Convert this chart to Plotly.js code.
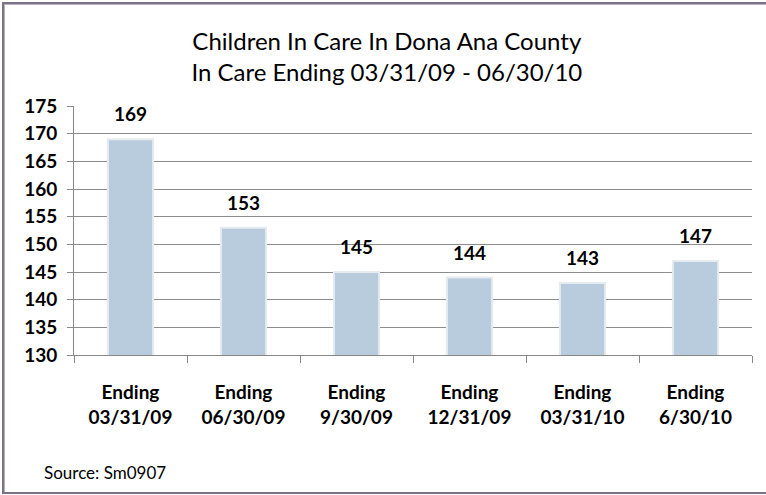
<!DOCTYPE html>
<html>
<head>
<meta charset="utf-8">
<script src="https://cdn.plot.ly/plotly-3.0.1.min.js"></script>
<style>
html,body{margin:0;padding:0;background:#fff;overflow:hidden;}
#frame{position:absolute;left:2px;top:2px;width:780px;height:492px;border:2px solid #7B7189;box-shadow:inset 1px 1px 0 #B7B0C0;box-sizing:border-box;}
#chart{position:absolute;left:0;top:0;width:766px;height:495px;}
</style>
</head>
<body>
<div id="chart"></div>
<div id="frame"></div>
<script>
var categories = ["Ending<br>03/31/09", "Ending<br>06/30/09", "Ending<br>9/30/09", "Ending<br>12/31/09", "Ending<br>03/31/10", "Ending<br>6/30/10"];
var values = [169, 153, 145, 144, 143, 147];
var yTicks = [130, 135, 140, 145, 150, 155, 160, 165, 170, 175];

var fontFam = "Lato, 'Open Sans', sans-serif";

var trace = {
  type: 'bar',
  x: categories,
  y: values,
  marker: {color: '#B9CCDE', line: {color: '#E6EBF0', width: 2}},
  hoverinfo: 'none'
};

var annotations = categories.map(function(c, i){
  return {x: c, y: values[i], xref: 'x', yref: 'y', text: '<b>' + values[i] + '</b>',
    showarrow: false, yanchor: 'bottom', yshift: 12,
    font: {family: fontFam, size: 19, color: '#000'}};
});
annotations.push({xref: 'paper', yref: 'paper', x: -0.047, y: -0.47, xanchor: 'left', yanchor: 'middle',
  text: 'Source: Sm0907', showarrow: false, font: {family: fontFam, size: 17, color: '#000'}});

var layout = {
  width: 766, height: 495,
  margin: {l: 74, r: 14, t: 106, b: 140},
  paper_bgcolor: 'rgba(0,0,0,0)', plot_bgcolor: '#fff',
  title: {text: 'Children In Care In Dona Ana County<br>In Care Ending 03/31/09 - 06/30/10',
    x: 0.505, xanchor: 'center', y: 0.9, yanchor: 'top',
    font: {family: fontFam, size: 24, color: '#000'}},
  xaxis: {type: 'category', tickson: 'boundaries', ticks: 'outside', ticklen: 7, tickcolor: '#888',
    showline: true, linecolor: '#888', linewidth: 1, showgrid: false, ticklabelstandoff: 20,
    tickfont: {family: fontFam, size: 19, color: '#000', weight: 'bold'}, fixedrange: true},
  yaxis: {range: [130, 175], tickvals: yTicks, ticks: 'outside', ticklen: 6, tickcolor: '#888',
    showline: true, linecolor: '#888', linewidth: 1, gridcolor: '#8c8c8c', gridwidth: 1, zeroline: false,
    ticklabelstandoff: 6,
    tickfont: {family: fontFam, size: 19, color: '#000', weight: 'bold'}, fixedrange: true},
  bargap: 0.6,
  showlegend: false,
  annotations: annotations
};

Plotly.newPlot('chart', [trace], layout, {displayModeBar: false, staticPlot: true});
</script>
</body>
</html>
